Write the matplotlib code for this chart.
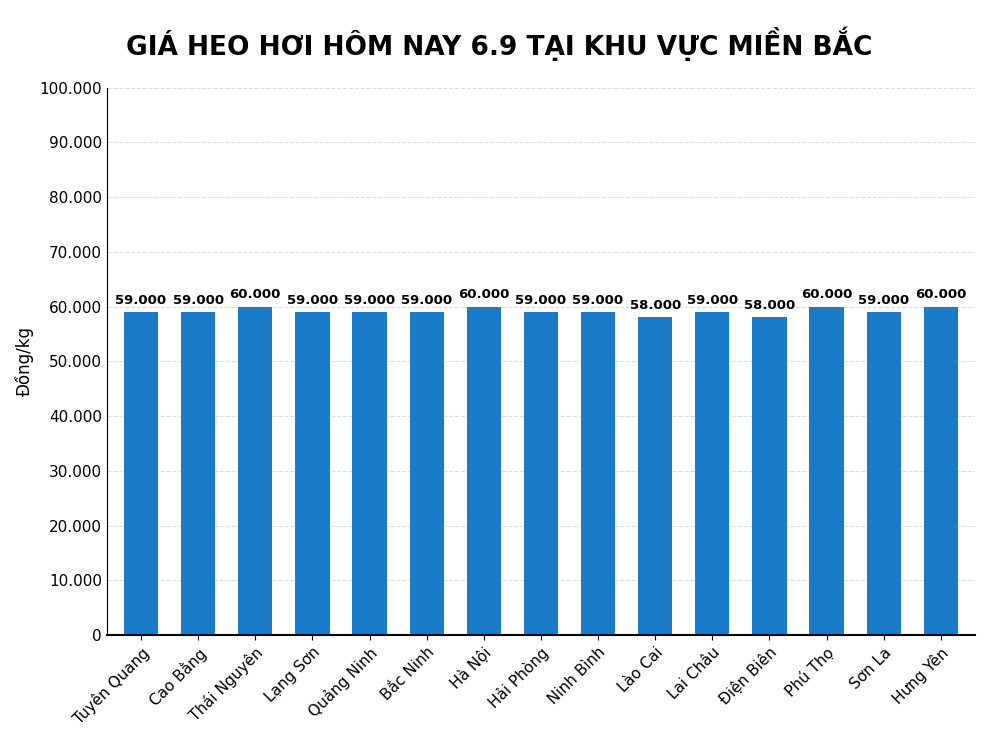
import matplotlib
matplotlib.use("Agg")
import matplotlib.pyplot as plt
from matplotlib.ticker import FuncFormatter

PROVINCES = ["Tuyên Quang", "Cao Bằng", "Thái Nguyên", "Lạng Sơn", "Quảng Ninh",
             "Bắc Ninh", "Hà Nội", "Hải Phòng", "Ninh Bình", "Lào Cai",
             "Lai Châu", "Điện Biên", "Phú Thọ", "Sơn La", "Hưng Yên"]
PRICES = [59000, 59000, 60000, 59000, 59000, 59000, 60000, 59000, 59000,
          58000, 59000, 58000, 60000, 59000, 60000]


def dot_thousands(v, _pos=None):
    return f"{int(v):,}".replace(",", ".")


fig = plt.figure(figsize=(9.98, 7.48), dpi=100)
ax = fig.add_axes([0.107, 0.151, 0.87, 0.732])

bars = ax.bar(PROVINCES, PRICES, width=0.6, color="#1a7bc9", zorder=2)
for bar, v in zip(bars, PRICES):
    ax.text(bar.get_x() + bar.get_width() / 2, v + 1000, dot_thousands(v),
            ha="center", va="bottom", fontsize=9.5, fontweight="bold")

ax.set_ylim(0, 100000)
ax.set_xlim(-0.6, 14.6)
ax.set_yticks(range(0, 100001, 10000))
ax.yaxis.set_major_formatter(FuncFormatter(dot_thousands))
ax.tick_params(axis="y", labelsize=11, length=0)
ax.tick_params(axis="x", labelsize=11)
plt.setp(ax.get_xticklabels(), rotation=45, ha="right", rotation_mode="anchor")
ax.grid(axis="y", linestyle="--", color="#dddddd", linewidth=0.8, zorder=0)
ax.spines["top"].set_visible(False)
ax.spines["right"].set_visible(False)
ax.spines["bottom"].set_linewidth(1.5)
ax.set_ylabel("Đồng/kg", fontsize=12)

fig.suptitle("GIÁ HEO HƠI HÔM NAY 6.9 TẠI KHU VỰC MIỀN BẮC",
             fontsize=19, fontweight="bold", y=0.965)

fig.savefig("out.png", dpi=100, facecolor="white")
